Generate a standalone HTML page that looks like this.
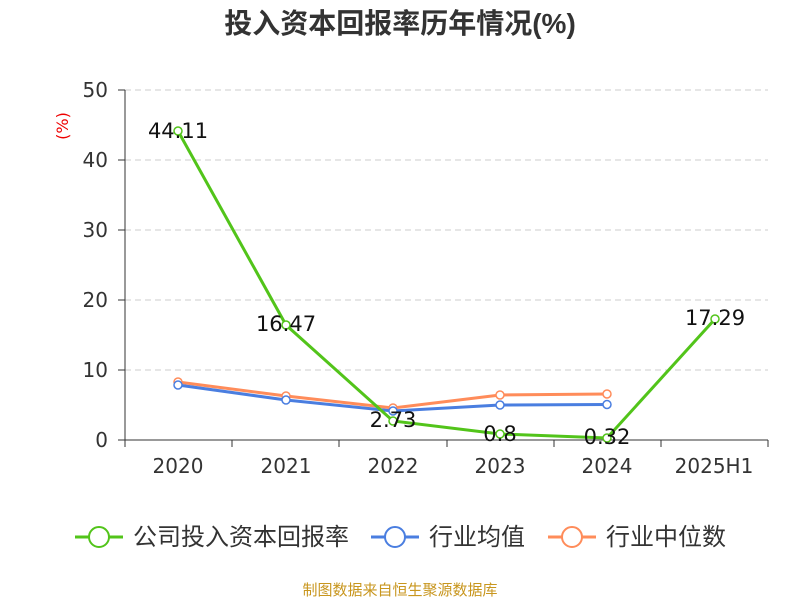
<!DOCTYPE html>
<html><head><meta charset="utf-8"><style>
body{margin:0;background:#fff;}
text{font-family:"DejaVu Sans","Noto Sans CJK SC",sans-serif;}
</style></head><body>
<svg width="800" height="600" xmlns="http://www.w3.org/2000/svg">
<text x="400" y="33" text-anchor="middle" font-size="28" font-weight="bold" fill="#333" style="font-family:'Liberation Sans','Noto Sans CJK SC',sans-serif">投入资本回报率历年情况(%)</text>
<g stroke="#ccc" stroke-dasharray="6,4" stroke-width="1">
<line x1="125" y1="90" x2="768" y2="90"/><line x1="125" y1="160" x2="768" y2="160"/>
<line x1="125" y1="230" x2="768" y2="230"/><line x1="125" y1="300" x2="768" y2="300"/>
<line x1="125" y1="370" x2="768" y2="370"/>
</g>
<g stroke="#333" stroke-width="1">
<line x1="125" y1="90" x2="125" y2="440"/>
<line x1="118" y1="90" x2="125" y2="90"/><line x1="118" y1="160" x2="125" y2="160"/>
<line x1="118" y1="230" x2="125" y2="230"/><line x1="118" y1="300" x2="125" y2="300"/>
<line x1="118" y1="370" x2="125" y2="370"/><line x1="118" y1="440" x2="125" y2="440"/>
<line x1="125" y1="440" x2="768" y2="440"/>
<line x1="125" y1="440" x2="125" y2="447"/><line x1="232" y1="440" x2="232" y2="447"/>
<line x1="339" y1="440" x2="339" y2="447"/><line x1="447" y1="440" x2="447" y2="447"/>
<line x1="554" y1="440" x2="554" y2="447"/><line x1="661" y1="440" x2="661" y2="447"/>
<line x1="768" y1="440" x2="768" y2="447"/>
</g>
<g font-size="20" fill="#333" text-anchor="end">
<text x="108" y="97">50</text><text x="108" y="167">40</text><text x="108" y="237">30</text>
<text x="108" y="307">20</text><text x="108" y="377">10</text><text x="108" y="447">0</text>
</g>
<text x="68" y="126" font-size="16" fill="#e00" text-anchor="middle" transform="rotate(-90 68 126)">(%)</text>
<g font-size="20" fill="#333" text-anchor="middle">
<text x="178" y="473">2020</text><text x="286" y="473">2021</text><text x="393" y="473">2022</text>
<text x="500" y="473">2023</text><text x="607" y="473">2024</text><text x="714" y="473">2025H1</text>
</g>
<polyline fill="none" stroke="#ff8c5a" stroke-width="3" points="178,382 286,396 393,408 500,395 607,394"/>
<polyline fill="none" stroke="#4a7ee0" stroke-width="3" points="178,385 286,400 393,411 500,405 607,404.5"/>
<polyline fill="none" stroke="#52c41a" stroke-width="3" points="178,131 286,325 393,421 500,434 607,438 715,319"/>
<g fill="#fff" stroke-width="1.5">
<g stroke="#ff8c5a"><circle cx="178" cy="382" r="4"/><circle cx="286" cy="396" r="4"/><circle cx="393" cy="408" r="4"/><circle cx="500" cy="395" r="4"/><circle cx="607" cy="394" r="4"/></g>
<g stroke="#4a7ee0"><circle cx="178" cy="385" r="4"/><circle cx="286" cy="400" r="4"/><circle cx="393" cy="411" r="4"/><circle cx="500" cy="405" r="4"/><circle cx="607" cy="404.5" r="4"/></g>
<g stroke="#52c41a"><circle cx="178" cy="131" r="4"/><circle cx="286" cy="325" r="4"/><circle cx="393" cy="421" r="4"/><circle cx="500" cy="434" r="4"/><circle cx="607" cy="438" r="4"/><circle cx="715" cy="319" r="4"/></g>
</g>
<g font-size="21" fill="#111" text-anchor="middle">
<text x="178" y="138">44.11</text><text x="286" y="331">16.47</text><text x="393" y="427">2.73</text>
<text x="500" y="441">0.8</text><text x="607" y="444">0.32</text><text x="715" y="325">17.29</text>
</g>
<g font-size="24" fill="#333">
<line x1="75" y1="537" x2="123" y2="537" stroke="#52c41a" stroke-width="3"/><circle cx="99" cy="537" r="10" fill="#fff" stroke="#52c41a" stroke-width="2"/>
<text x="133" y="545">公司投入资本回报率</text>
<line x1="371" y1="537" x2="419" y2="537" stroke="#4a7ee0" stroke-width="3"/><circle cx="395" cy="537" r="10" fill="#fff" stroke="#4a7ee0" stroke-width="2"/>
<text x="429" y="545">行业均值</text>
<line x1="548" y1="537" x2="596" y2="537" stroke="#ff8c5a" stroke-width="3"/><circle cx="572" cy="537" r="10" fill="#fff" stroke="#ff8c5a" stroke-width="2"/>
<text x="606" y="545">行业中位数</text>
</g>
<text x="400" y="595" font-size="15" fill="#c8961e" text-anchor="middle">制图数据来自恒生聚源数据库</text>
</svg>
</body></html>
